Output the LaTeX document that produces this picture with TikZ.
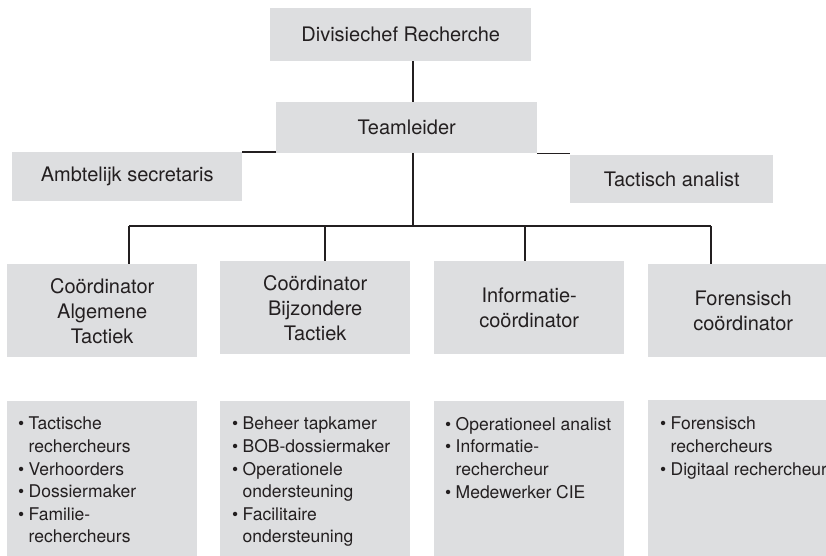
\documentclass[tikz,border=0pt]{standalone}
\usepackage{fontspec}
\setmainfont{TeX Gyre Heros}
\definecolor{boxgray}{RGB}{221,222,224}
\definecolor{ink}{RGB}{35,31,32}
\newcommand\bitem{\makebox[10.5pt][l]{•}}
\newcommand\bcont{\hspace*{10.5pt}}
\begin{document}
\begin{tikzpicture}[x=1pt,y=-1pt,
  box/.style={fill=boxgray, draw=none, inner sep=0pt, anchor=north west, align=center,
    font=\fontsize{20}{25}\selectfont, text=ink},
  listtext/.style={inner sep=0pt, anchor=north west, align=left,
    font=\fontsize{17.5}{22.6}\selectfont, text=ink},
  conn/.style={draw=ink, line width=1.3pt}]
\useasboundingbox (0,0) rectangle (826,555);
% boxes
\node[box, minimum width=261pt, minimum height=53pt] (d) at (270,8) {Divisiechef Recherche};
\node[box, minimum width=261pt, minimum height=51pt] (t) at (276,102) {Teamleider};
\node[box, minimum width=230pt, minimum height=49pt] (a) at (12,152) {Ambtelijk secretaris};
\node[box, minimum width=203pt, minimum height=48pt] (ta) at (570,155) {Tactisch analist};
\node[box, minimum width=190pt, minimum height=93pt] (c1) at (7,264) {Coördinator\\Algemene\\Tactiek};
\node[box, minimum width=190pt, minimum height=93pt] (c2) at (220,261) {Coördinator\\Bijzondere\\Tactiek};
\node[box, minimum width=190pt, minimum height=93pt] (c3) at (434,261) {Informatie-\\coördinator};
\node[box, minimum width=190pt, minimum height=93pt] (c4) at (648,264) {Forensisch\\coördinator};
\node[box, minimum width=190pt, minimum height=160pt] (l1) at (7,401) {};
\node[box, minimum width=190pt, minimum height=160pt] (l2) at (220,401) {};
\node[box, minimum width=190pt, minimum height=160pt] (l3) at (434,401) {};
\node[box, minimum width=190pt, minimum height=160pt] (l4) at (648,400) {};
% list texts
\node[listtext] (t1) at ([shift={(11pt,-16pt)}]l1.north west)
  {\bitem Tactische\\\bcont rechercheurs\\\bitem Verhoorders\\\bitem Dossiermaker\\\bitem Familie-\\\bcont rechercheurs};
\node[listtext] (t2) at ([shift={(12pt,-16pt)}]l2.north west)
  {\bitem Beheer tapkamer\\\bitem BOB-dossiermaker\\\bitem Operationele\\\bcont ondersteuning\\\bitem Facilitaire\\\bcont ondersteuning};
\node[listtext] (t3) at ([shift={(11pt,-16pt)}]l3.north west)
  {\bitem Operationeel analist\\\bitem Informatie-\\\bcont rechercheur\\\bitem Medewerker CIE};
\node[listtext] (t4) at ([shift={(12pt,-17pt)}]l4.north west)
  {\bitem Forensisch\\\bcont rechercheurs\\\bitem Digitaal rechercheur};
% connector points
\coordinate (spine) at (413,226);
\coordinate (j1) at (129,226);
\coordinate (j2) at (325,226);
\coordinate (j3) at (525,226);
\coordinate (j4) at (711,226);
% connectors
\draw[conn] (d.south -| spine) -- (t.north -| spine);
\draw[conn] (t.south -| spine) -- (spine);
\draw[conn] (a.north east) -- (a.north east -| t.west);
\draw[conn] (t.south east) -- (t.south east -| ta.west);
\draw[conn] (j1) -- (j4);
\draw[conn] (j1) -- (j1 |- c1.north);
\draw[conn] (j2) -- (j2 |- c2.north);
\draw[conn] (j3) -- (j3 |- c3.north);
\draw[conn] (j4) -- (j4 |- c4.north);
\end{tikzpicture}
\end{document}
